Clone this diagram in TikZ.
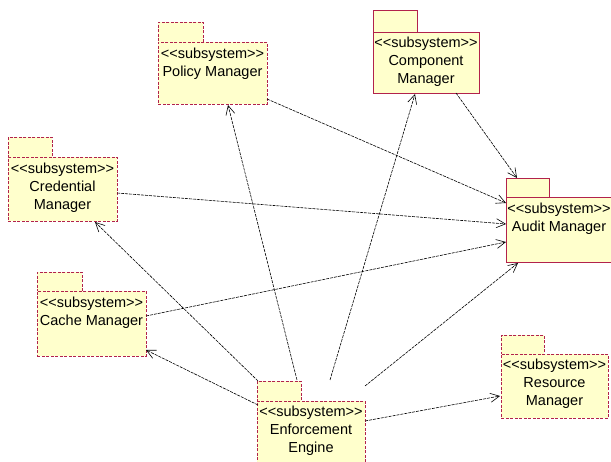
\documentclass[tikz,border=0pt]{standalone}
\usepackage{fontspec}
\setmainfont{Liberation Sans}
\usetikzlibrary{arrows.meta,calc}
\definecolor{pkgfill}{RGB}{255,255,204}
\definecolor{pkgline}{RGB}{178,34,76}
\newcommand{\stereosub}{<\kern0pt<subsystem>\kern0pt>}
\tikzset{
  pkgbase/.style={draw=pkgline, fill=pkgfill, line width=0.9pt, inner sep=0pt, anchor=north west},
  dashedpkg/.style={pkgbase, dash pattern=on 3pt off 1.5pt},
  solidpkg/.style={pkgbase},
  lbl/.style={anchor=north, align=center, inner sep=0pt, font=\fontsize{14.5pt}{18pt}\selectfont, text=black},
  dep/.style={draw=black, line width=0.6pt, dash pattern=on 3pt off 1pt, -{Straight Barb[length=9pt,width=9pt]}}
}
\begin{document}
\begin{tikzpicture}[x=1pt,y=-1pt]
\useasboundingbox (0,0) rectangle (611,462);
\clip (0,0) rectangle (611,462);
% Policy Manager
\node[dashedpkg, minimum width=45pt, minimum height=20pt] (pol-tab) at (158,22) {};
\node[dashedpkg, minimum width=109pt, minimum height=62pt] (pol) at (158,42) {};
\node[lbl] (pol-t) at (212.5,47.5) {\stereosub\\Policy Manager};
% Component Manager
\node[solidpkg, minimum width=44pt, minimum height=22pt] (comp-tab) at (373,10) {};
\node[solidpkg, minimum width=106pt, minimum height=61pt] (comp) at (373,32) {};
\node[lbl] (comp-t) at (426,36.5) {\stereosub\\Component\\Manager};
% Credential Manager
\node[dashedpkg, minimum width=44pt, minimum height=20pt] (cred-tab) at (8,137) {};
\node[dashedpkg, minimum width=109pt, minimum height=64pt] (cred) at (8,157) {};
\node[lbl] (cred-t) at (62.5,162.5) {\stereosub\\Credential\\Manager};
% Cache Manager
\node[dashedpkg, minimum width=45pt, minimum height=19pt] (cache-tab) at (37,272) {};
\node[dashedpkg, minimum width=109pt, minimum height=65pt] (cache) at (37,291) {};
\node[lbl] (cache-t) at (91.5,296.5) {\stereosub\\Cache Manager};
% Audit Manager
\node[solidpkg, minimum width=43pt, minimum height=19pt] (audit-tab) at (506,178) {};
\node[solidpkg, minimum width=104.5pt, minimum height=65pt] (audit) at (506,197) {};
\node[lbl] (audit-t) at (559,202.5) {\stereosub\\Audit Manager};
% Resource Manager
\node[dashedpkg, minimum width=43pt, minimum height=19pt] (res-tab) at (501,335) {};
\node[dashedpkg, minimum width=107pt, minimum height=64pt] (res) at (501,354) {};
\node[lbl] (res-t) at (554.5,359) {\stereosub\\Resource\\Manager};
% Enforcement Engine
\node[dashedpkg, minimum width=44pt, minimum height=20pt] (ee-tab) at (257,381) {};
\node[dashedpkg, minimum width=108pt, minimum height=70pt] (ee) at (257,401) {};
\node[lbl] (ee-t) at (311,406) {\stereosub\\Enforcement\\Engine};
% Dependencies
\draw[dep] ($(pol.north west)+(109,57)$) -- ($(audit.north west)+(0,6)$);
\draw[dep] ($(comp.north west)+(83,61)$) -- ($(audit.north west)+(11,-19)$);
\draw[dep] ($(cred.north west)+(109,36)$) -- ($(audit.north west)+(0,27)$);
\draw[dep] ($(cache.north west)+(109,25)$) -- ($(audit.north west)+(0,45)$);
\draw[dep] ($(ee.north west)+(108,-15)$) -- ($(audit.north west)+(12,66)$);
\draw[dep] ($(ee.north west)+(73,-21)$) -- ($(comp.north west)+(42,62)$);
\draw[dep] ($(ee.north west)+(40,-21)$) -- ($(pol.north west)+(70,63)$);
\draw[dep] ($(ee.north west)+(1,-20)$) -- ($(cred.north west)+(87,65)$);
\draw[dep] ($(ee.north west)+(1,4)$) -- ($(cache.north west)+(109,59)$);
\draw[dep] ($(ee.north west)+(108,20)$) -- ($(res.north west)+(-1,42)$);
\end{tikzpicture}
\end{document}
